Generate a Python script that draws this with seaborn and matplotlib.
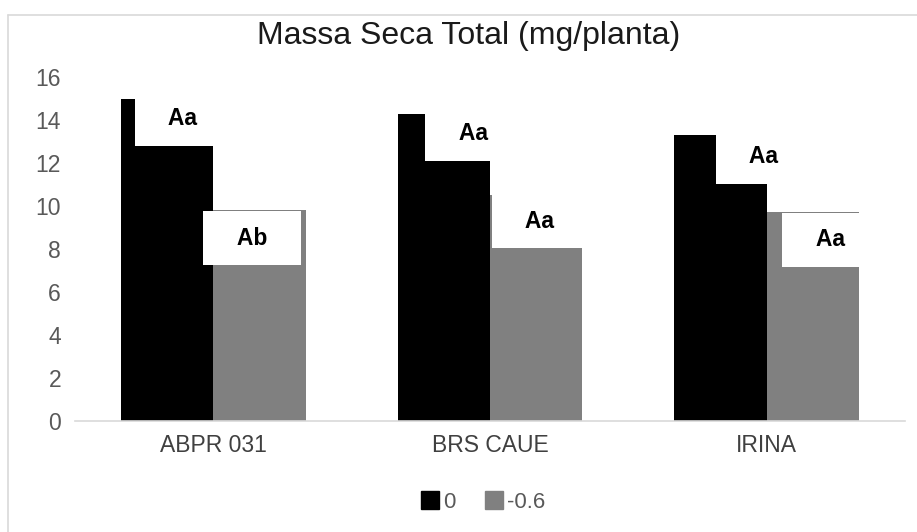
import pandas as pd
import matplotlib.pyplot as plt
import seaborn as sns
from matplotlib.lines import Line2D

# values
cultivares = ['ABPR 031', 'BRS CAUE', 'IRINA']
potenciais = ['0', '-0.6']
massa_0 = [15.0, 14.3, 13.3]
massa_06 = [9.8, 10.5, 9.7]
letras_0 = ['Aa', 'Aa', 'Aa']
letras_06 = ['Ab', 'Aa', 'Aa']
# label positions (x offset from group centre, y in data units)
pos_0 = [(-0.11, 14.05), (-0.06, 13.35), (-0.01, 12.28)]
pos_06 = [(0.14, 8.51), (0.18, 9.30), (0.23, 8.42)]

dat = pd.DataFrame({
    'Cultivar': cultivares * 2,
    'Potencial': [potenciais[0]] * 3 + [potenciais[1]] * 3,
    'Massa': massa_0 + massa_06,
})

sns.set_style('white')
plt.rcParams['font.family'] = ['Liberation Sans', 'DejaVu Sans']

fig = plt.figure(figsize=(9.17, 5.32), dpi=100)
ax = fig.add_axes([75 / 917, 111 / 532, 830 / 917, 344 / 532])

sns.barplot(data=dat, x='Cultivar', y='Massa', hue='Potencial',
            palette=['#000000', '#808080'], width=0.667, gap=0,
            saturation=1, linewidth=0, ax=ax, legend=False)

ax.set_xlim(-0.5, 2.5)
ax.set_ylim(0, 16)
ax.set_yticks(range(0, 17, 2))
ax.set_xlabel('')
ax.set_ylabel('')
for s in ['top', 'right', 'left']:
    ax.spines[s].set_visible(False)
ax.spines['bottom'].set_color('#d9d9d9')
ax.spines['bottom'].set_linewidth(1.2)
ax.tick_params(axis='y', length=0, pad=10, labelsize=16.5, labelcolor='#595959')
ax.tick_params(axis='x', length=0, pad=9, labelsize=16.5, labelcolor='#404040')

# significance letters in white boxes
sp = ' \u2002'
for i in range(3):
    for letra, (dx, y) in [(letras_0[i], pos_0[i]), (letras_06[i], pos_06[i])]:
        ax.text(i + dx, y, sp + letra + sp[::-1], ha='center', va='center',
                fontsize=16.5, fontweight='bold', color='#000000', zorder=5,
                bbox=dict(boxstyle='square,pad=0.68', fc='white', ec='none'))

fig.text(469 / 917, 1 - 36 / 532, 'Massa Seca Total (mg/planta)',
         ha='center', va='center', fontsize=23, color='#1a1a1a')

handles = [Line2D([], [], marker='s', linestyle='none', markersize=13,
                  markerfacecolor=c, markeredgecolor=c)
           for c in ['#000000', '#808080']]
fig.legend(handles, potenciais, loc='center', bbox_to_anchor=(481 / 917, 1 - 502 / 532),
           ncol=2, frameon=False, fontsize=16, labelcolor='#595959',
           handletextpad=0.0, columnspacing=1.1, handlelength=1.2)

# light outer frame (top and left edges visible in reference)
fig.add_artist(Line2D([8 / 917, 8 / 917], [0, 1 - 15 / 532], color='#d9d9d9', lw=1.2))
fig.add_artist(Line2D([8 / 917, 1], [1 - 15 / 532, 1 - 15 / 532], color='#d9d9d9', lw=1.2))

plt.savefig('out.png', dpi=100, facecolor='white')
plt.close()
